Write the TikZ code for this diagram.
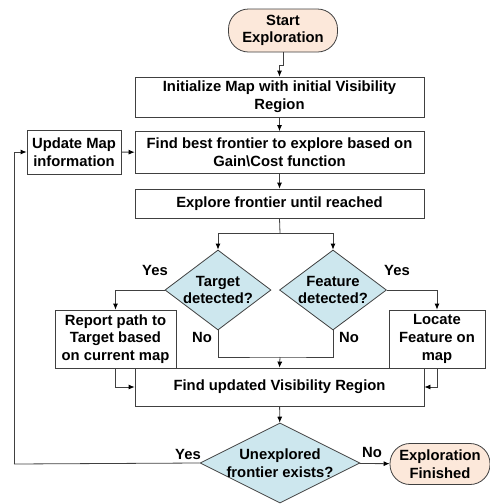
\documentclass[tikz,border=0pt]{standalone}
\usepackage{fontspec}
\setmainfont{Liberation Sans}
\usetikzlibrary{shapes.geometric,arrows.meta}
\definecolor{termfill}{HTML}{FCE8DA}
\definecolor{decfill}{HTML}{CDE7EE}
\definecolor{edge}{HTML}{404040}

\begin{document}
\begin{tikzpicture}[x=1pt,y=-1pt,
  every node/.style={font=\bfseries\fontsize{14.8}{17.6}\selectfont},
  proc/.style={draw=edge,line width=0.8pt,rectangle,align=center,inner sep=0pt},
  term/.style={draw=edge,line width=0.8pt,fill=termfill,rounded corners=20pt,align=center,inner sep=0pt},
  dec/.style={draw=edge,line width=0.8pt,fill=decfill,diamond,inner sep=0pt},
  arr/.style={draw=edge,line width=0.8pt,-{Latex[length=6pt,width=5pt,color=black]}},
  ln/.style={draw=edge,line width=0.8pt}]
\path[use as bounding box] (0,0) rectangle (490,504);
% terminals
\node[term,minimum width=109pt,minimum height=43pt] (start) at (283,30.5) {Start\\Exploration};
\node[term,minimum width=100pt,minimum height=41pt] (fin) at (440,464) {Exploration\\Finished};
% process boxes
\node[proc,minimum width=289pt,minimum height=40pt] (init) at (279.5,97) {Initialize Map with initial Visibility\\Region};
\node[proc,minimum width=289pt,minimum height=42pt] (best) at (279.5,152.5) {Find best frontier to explore based on\\Gain\textbackslash Cost function};
\node[proc,minimum width=94pt,minimum height=44pt] (updmap) at (74,152) {Update Map\\information};
\node[proc,minimum width=289pt,minimum height=29pt] (explore) at (279.5,203.5) {Explore frontier until reached};
\node[proc,minimum width=121pt,minimum height=58pt] (report) at (115.5,339) {Report path to\\Target based\\on current map};
\node[proc,minimum width=96pt,minimum height=58pt] (locate) at (437,339) {Locate\\Feature on\\map};
\node[proc,minimum width=289pt,minimum height=38pt] (upd) at (279.5,387) {Find updated Visibility Region};
% decisions
\node[dec,minimum width=106pt,minimum height=80pt,label={[align=center]center:Target\\detected?}] (tgt) at (218,290) {};
\node[dec,minimum width=107pt,minimum height=80pt,label={[align=center]center:Feature\\detected?}] (feat) at (333,290) {};
\node[dec,minimum width=160pt,minimum height=80pt,label={[align=center]center:Unexplored\\frontier exists?}] (unex) at (280,463) {};
% helper points
\coordinate (split) at (280,233);
\coordinate (join) at (280,357);
\coordinate (corner) at (14,464);
% connectors
\draw[arr] (start.south) -- ++(0,13) -| (init.north);
\draw[arr] (init) -- (best);
\draw[arr] (best) -- (explore);
\draw[ln] (explore.south) -- (split);
\draw[arr] (split) -| (tgt.north);
\draw[arr] (split) -| (feat.north);
\draw[arr] (tgt.west) -| (report.north);
\draw[arr] (feat.east) -| (locate.north);
\draw[ln] (tgt.south) |- (join) -| (feat.south);
\draw[arr] (join) -- (upd.north);
\draw[arr] (report.south) |- (upd.west);
\draw[arr] (locate.south) |- (upd.east);
\draw[arr] (upd) -- (unex);
\draw[arr] (unex) -- (fin);
\draw[ln] (unex.west) -- (corner);
\draw[arr] (corner) |- (updmap.west);
\draw[arr] (updmap) -- (best);
% branch labels
\node at (155,270) {Yes};
\node at (397,270) {Yes};
\node at (202,337) {No};
\node at (349,337) {No};
\node at (188,454) {Yes};
\node at (372,452) {No};
\end{tikzpicture}
\end{document}
